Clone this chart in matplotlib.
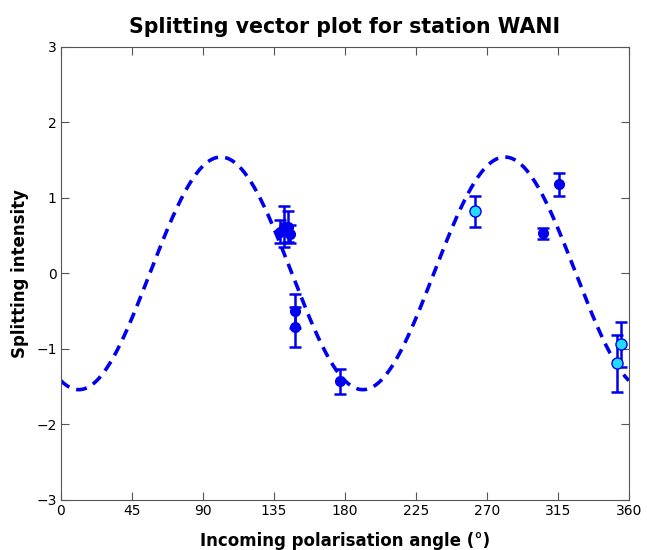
import numpy as np
import matplotlib
matplotlib.use("Agg")
import matplotlib.pyplot as plt

# Data
blue_angle = [139, 141.5, 144, 145.5, 148.5, 148.5, 177, 305.5, 315.5]
blue_si = [0.55, 0.62, 0.62, 0.52, -0.50, -0.71, -1.43, 0.53, 1.18]
blue_err = [0.15, 0.27, 0.20, 0.12, 0.22, 0.27, 0.17, 0.07, 0.15]

cyan_angle = [262.5, 352.5, 355]
cyan_si = [0.82, -1.19, -0.94]
cyan_err = [0.21, 0.38, 0.30]

fit_amplitude = 1.54
fit_phase_deg = 56.4

xticks = [0, 45, 90, 135, 180, 225, 270, 315, 360]
yticks = [-3, -2, -1, 0, 1, 2, 3]

fig = plt.figure(figsize=(6.47, 5.5), dpi=100)
ax = fig.add_axes([0.094, 0.091, 0.878, 0.824])

theta = np.linspace(0, 360, 721)
model = fit_amplitude * np.sin(np.radians(2 * (theta - fit_phase_deg)))
ax.plot(theta, model, linestyle=(0, (3, 2)), color="#0000ee", lw=2.6, zorder=1)

ax.errorbar(blue_angle, blue_si, yerr=blue_err, fmt="o", color="#0000ee",
            mfc="#0000ee", mec="#0000ee", ms=7, elinewidth=1.8, capsize=4,
            capthick=1.8, zorder=2)
ax.errorbar(cyan_angle, cyan_si, yerr=cyan_err, fmt="o", color="#0000ee",
            mfc="#22ddff", mec="#0000ee", ms=8, elinewidth=1.8, capsize=4,
            capthick=1.8, zorder=3)

ax.set_xlim(0, 360)
ax.set_ylim(-3, 3)
ax.set_xticks(xticks)
ax.set_yticks(yticks)
ax.tick_params(direction="in", top=True, right=True, length=6, labelsize=10,
               color="#555555", pad=3)
for s in ax.spines.values():
    s.set_color("#555555")

ax.set_xlabel("Incoming polarisation angle (°)", fontsize=12, fontweight="bold", labelpad=10)
ax.set_ylabel("Splitting intensity", fontsize=12, fontweight="bold", labelpad=5)
ax.set_title("Splitting vector plot for station WANI", fontsize=14.8, fontweight="bold", pad=10)

fig.savefig("out.png", dpi=100)
